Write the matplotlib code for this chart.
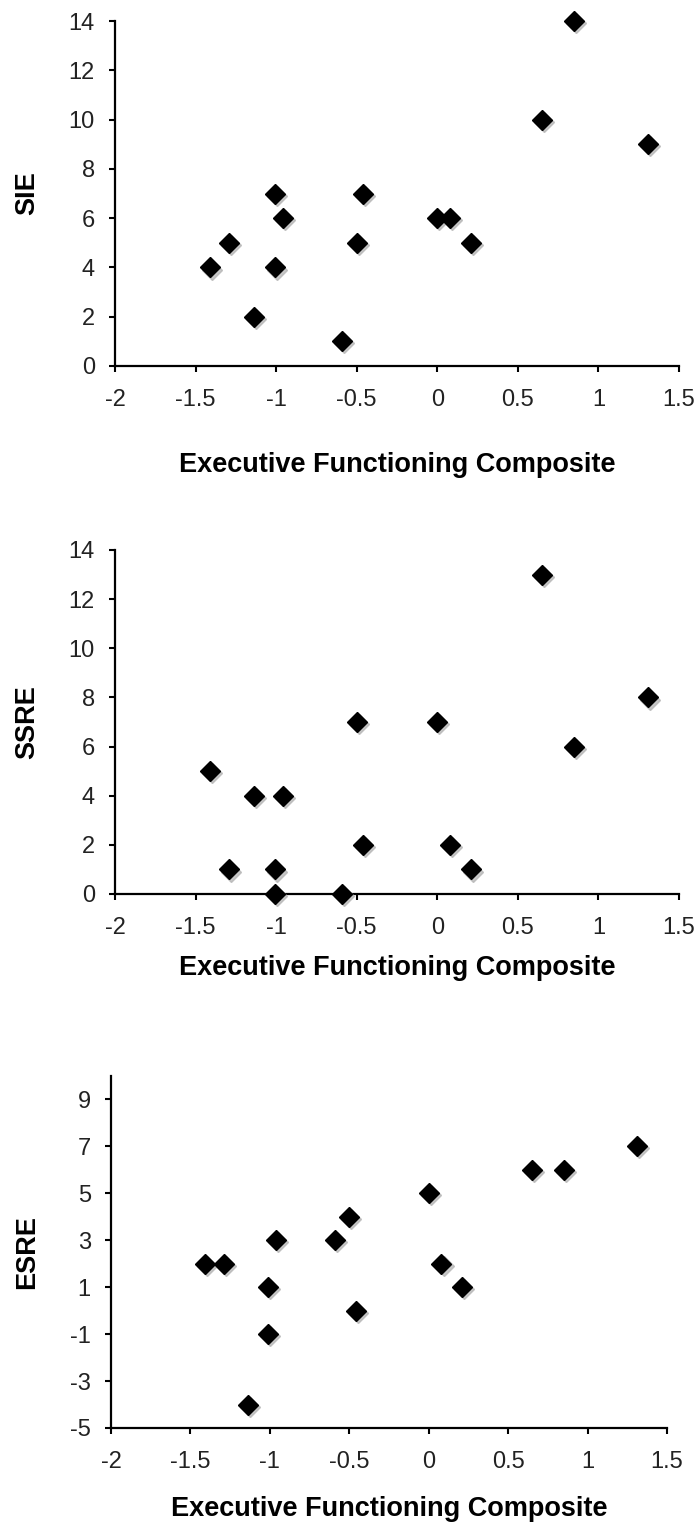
import matplotlib
matplotlib.use("Agg")
import matplotlib.pyplot as plt
from matplotlib.transforms import offset_copy

plt.rcParams['font.family'] = ['Liberation Sans', 'DejaVu Sans']
plt.rcParams['axes.unicode_minus'] = False

# Executive functioning composite scores (same participants in every panel)
ef_score = [-1.41, -1.29, -1.14, -1.01, -1.01, -0.96, -0.59, -0.50, -0.46,
            0.00, 0.08, 0.21, 0.65, 0.85, 1.31]
sie = [4, 5, 2, 7, 4, 6, 1, 5, 7, 6, 6, 5, 10, 14, 9]
ssre = [5, 1, 4, 1, 0, 4, 0, 7, 2, 7, 2, 1, 13, 6, 8]
esre = [2, 2, -4, 1, -1, 3, 3, 4, 0, 5, 2, 1, 6, 6, 7]

x_ticks = [-2, -1.5, -1, -0.5, 0, 0.5, 1, 1.5]
x_ticklabels = ['-2', '-1.5', '-1', '-0.5', '0', '0.5', '1', '1.5']
y_ticks_14 = [0, 2, 4, 6, 8, 10, 12, 14]
y_ticks_esre = [-5, -3, -1, 1, 3, 5, 7, 9]

xlabel = 'Executive Functioning Composite'

W, H = 697, 1525
fig = plt.figure(figsize=(W / 100, H / 100), dpi=100)

tick_font = ['Liberation Sans Narrow', 'Liberation Sans', 'DejaVu Sans']


def rect(left, top, right, bottom):
    return [left / W, 1 - bottom / H, (right - left) / W, (bottom - top) / H]


panels = [
    # values, ylabel, yticks, ylim, axes box (px), xlabel centre y (px)
    (sie, 'SIE', y_ticks_14, (0, 14), (115, 21, 679, 366), 465),
    (ssre, 'SSRE', y_ticks_14, (0, 14), (115, 550, 679, 894), 968),
    (esre, 'ESRE', y_ticks_esre, (-5, 10), (111, 1076, 667, 1428), 1509),
]

for vals, ylab, yt, ylim, box, xl_y in panels:
    ax = fig.add_axes(rect(*box))
    # soft grey shadow like the Excel markers
    shadow = offset_copy(ax.transData, fig=fig, x=1.5, y=-1.5, units='points')
    ax.plot(ef_score, vals, linestyle='none', marker='D', markersize=10.5,
            color='#b0b0b0', alpha=0.7, transform=shadow, clip_on=False, zorder=3)
    ax.plot(ef_score, vals, linestyle='none', marker='D', markersize=10.5,
            color='black', clip_on=False, zorder=4)

    ax.set_xlim(-2, 1.5)
    ax.set_ylim(*ylim)
    ax.set_xticks(x_ticks)
    ax.set_xticklabels(x_ticklabels, family=tick_font)
    ax.set_yticks(yt)
    ax.set_yticklabels([str(v) for v in yt], family=tick_font)

    for s in ['top', 'right']:
        ax.spines[s].set_visible(False)
    for s in ['left', 'bottom']:
        ax.spines[s].set_linewidth(1.6)
        ax.spines[s].set_color('black')

    ax.tick_params(axis='both', direction='out', length=4.5, width=1.5,
                   colors='black', labelcolor='#222222', labelsize=17)
    ax.tick_params(axis='x', pad=12)
    ax.tick_params(axis='y', pad=10)

    cx = (box[0] + box[2]) / 2
    cy = (box[1] + box[3]) / 2
    fig.text(cx / W, 1 - xl_y / H, xlabel, ha='center', va='center',
             fontsize=19.5, fontweight='bold')
    fig.text(27 / W, 1 - cy / H, ylab, ha='center', va='center',
             rotation=90, fontsize=19.5, fontweight='bold')

fig.savefig('out.png', dpi=100)
